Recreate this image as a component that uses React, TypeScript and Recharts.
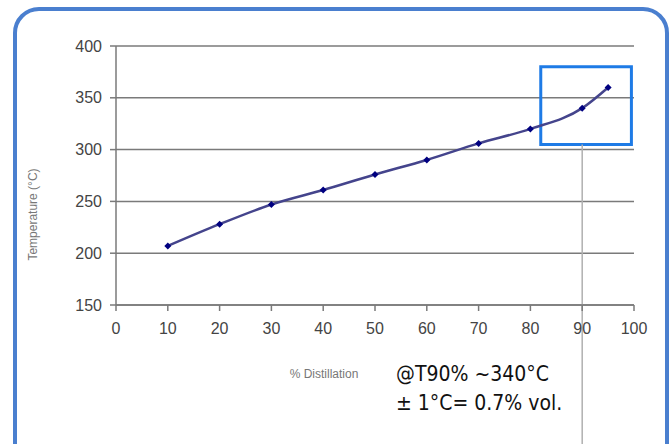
import React from 'react';
import { LineChart, Line, XAxis, YAxis, CartesianGrid, ReferenceArea, ReferenceLine } from 'recharts';

const distillation = [10, 20, 30, 40, 50, 60, 70, 80, 90, 95];
const temperature = [207, 228, 247, 261, 276, 290, 306, 320, 340, 360];
const xTicks = [0, 10, 20, 30, 40, 50, 60, 70, 80, 90, 100];
const yTicks = [150, 200, 250, 300, 350, 400];
const highlight = { x1: 82, x2: 99.5, y1: 305, y2: 380 };
const t90 = 90;

const data = distillation.map((d, i) => ({ x: d, t: temperature[i] }));

const Diamond = (props: any) => {
  const { cx, cy } = props;
  if (cx == null || cy == null) return null;
  const r = 3.5;
  return <path d={`M${cx},${cy - r}L${cx + r},${cy}L${cx},${cy + r}L${cx - r},${cy}Z`} fill="#000080" />;
};

export default function App() {
  return (
    <div style={{ position: 'absolute', left: 0, top: 0, width: 672, height: 444, overflow: 'hidden', background: '#fff' }}>
      <div
        style={{
          position: 'absolute',
          left: 13,
          top: 7,
          width: 656,
          height: 470,
          boxSizing: 'border-box',
          border: '4px solid #4a7fcf',
          borderRadius: 26,
        }}
      />
      <div style={{ position: 'absolute', left: 0, top: 0 }}>
        <LineChart width={672} height={444} data={data} margin={{ top: 46, right: 38, bottom: 109, left: 26 }}>
          <CartesianGrid vertical={false} stroke="#7a7a7a" strokeWidth={1.5} />
          <XAxis
            type="number"
            dataKey="x"
            domain={[0, 100]}
            ticks={xTicks}
            interval={0}
            height={30}
            tickSize={6}
            tickMargin={12}
            stroke="#7a7a7a"
            strokeWidth={1.5}
            tick={{ fill: '#444', fontSize: 16, fontFamily: 'Liberation Sans, Arial, sans-serif' }}
            label={{
              content: (p: any) => (
                <text
                  x={p.viewBox.x + p.viewBox.width / 2 - 51}
                  y={p.viewBox.y + 73}
                  textAnchor="middle"
                  fontSize={12}
                  fill="#777"
                  fontFamily="Liberation Sans Narrow, Liberation Sans, Arial, sans-serif"
                >
                  % Distillation
                </text>
              ),
            }}
          />
          <YAxis
            type="number"
            domain={[150, 400]}
            ticks={yTicks}
            interval={0}
            width={90}
            tickSize={6}
            tickMargin={8}
            stroke="#7a7a7a"
            strokeWidth={1.5}
            tick={{ fill: '#444', fontSize: 16, fontFamily: 'Liberation Sans, Arial, sans-serif' }}
            label={{
              content: (p: any) => {
                const x = p.viewBox.x + 7;
                const y = p.viewBox.y + p.viewBox.height / 2 + 39;
                return (
                  <text
                    x={x}
                    y={y}
                    transform={`rotate(-90 ${x} ${y})`}
                    textAnchor="middle"
                    dominantBaseline="central"
                    fontSize={12}
                    fill="#777"
                    fontFamily="Liberation Sans Narrow, Liberation Sans, Arial, sans-serif"
                  >
                    Temperature (°C)
                  </text>
                );
              },
            }}
          />
          <ReferenceLine
            segment={[{ x: t90, y: highlight.y1 }, { x: t90, y: 0 }]}
            stroke="#b0b0b0"
            strokeWidth={1.5}
            ifOverflow="visible"
          />
          <Line
            type="monotone"
            dataKey="t"
            stroke="#44448c"
            strokeWidth={2.5}
            dot={<Diamond />}
            activeDot={false}
            isAnimationActive={false}
          />
          <ReferenceArea
            x1={highlight.x1}
            x2={highlight.x2}
            y1={highlight.y1}
            y2={highlight.y2}
            fill="none"
            fillOpacity={0}
            stroke="#1e7be6"
            strokeWidth={3}
            ifOverflow="visible"
          />
        </LineChart>
      </div>
      <div
        style={{
          position: 'absolute',
          left: 396,
          top: 360,
          fontFamily: '"DejaVu Sans Condensed", "DejaVu Sans", sans-serif',
          fontSize: 21,
          lineHeight: '29px',
          color: '#111',
          whiteSpace: 'nowrap',
        }}
      >
        <div>@T90% ~340°C</div>
        <div>± 1°C= 0.7% vol.</div>
      </div>
    </div>
  );
}
